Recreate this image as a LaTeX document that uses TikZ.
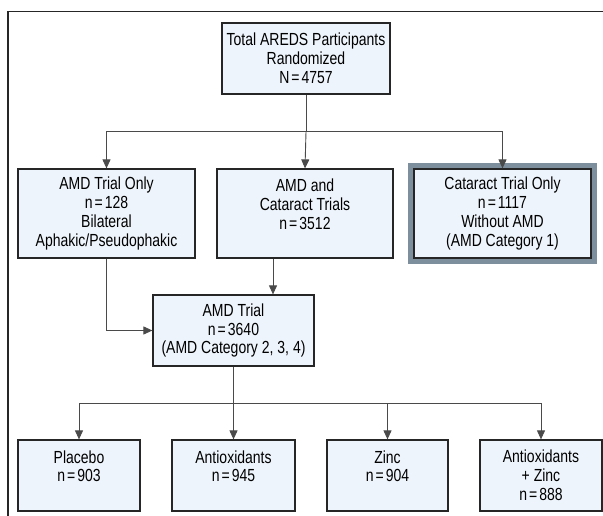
\documentclass[tikz,border=0pt]{standalone}
\usepackage{fontspec}
\setmainfont[FakeStretch=0.8]{Liberation Sans}
\usetikzlibrary{arrows.meta}
\definecolor{boxfill}{HTML}{EEF4FB}
\definecolor{framegray}{HTML}{7D8F9D}
\definecolor{linec}{HTML}{4A4A4A}
\newcommand\eqsign{\kern2pt=\kern2pt}
\begin{document}
\begin{tikzpicture}[x=1pt,y=-1pt,
  box/.style={draw=black!85, line width=1.2pt, fill=boxfill, align=center,
    inner sep=0pt, font=\fontsize{17.5}{18.8}\selectfont},
  conn/.style={draw=linec, line width=0.9pt},
  arr/.style={conn, -{Triangle[length=9pt,width=8pt]}}]
\useasboundingbox (0,0) rectangle (603,516);
\draw[line width=1.1pt, black!85] (8,518) -- (8,11.5) -- (605,11.5);

\node[box, minimum width=168pt, minimum height=71pt] (top) at (306,58.5)
  {Total AREDS Participants\\Randomized\\N\eqsign 4757};

\node[box, minimum width=177pt, minimum height=89pt] (A) at (106.5,213.5)
  {AMD Trial Only\\n\eqsign 128\\Bilateral\\Aphakic/Pseudophakic};
\node[box, minimum width=176pt, minimum height=89pt] (B) at (305,213.5)
  {AMD and\\Cataract Trials\\n\eqsign 3512\\\mbox{}};
\node[box, minimum width=177pt, minimum height=89pt,
  preaction={draw=framegray, line width=12pt}] (C) at (502.5,213.5)
  {Cataract Trial Only\\n\eqsign 1117\\Without AMD\\(AMD Category 1)};

\node[box, minimum width=161pt, minimum height=71pt] (amd) at (233.5,330.5)
  {AMD Trial\\n\eqsign 3640\\(AMD Category 2, 3, 4)};

\node[box, minimum width=122pt, minimum height=71pt] (p1) at (79,475.5)
  {Placebo\\n\eqsign 903\\\mbox{}};
\node[box, minimum width=123pt, minimum height=71pt] (p2) at (233.5,475.5)
  {Antioxidants\\n\eqsign 945\\\mbox{}};
\node[box, minimum width=121pt, minimum height=71pt] (p3) at (387.5,475.5)
  {Zinc\\n\eqsign 904\\\mbox{}};
\node[box, minimum width=122pt, minimum height=71pt] (p4) at (541,475.5)
  {Antioxidants\\+ Zinc\\n\eqsign 888};

\draw[conn] (top.south) -- ++(0,37) coordinate (br);
\draw[arr] (br) -| (A.north);
\draw[arr] (br) -- (B.north);
\draw[arr] (br) -| (C.north);

\draw[arr] (A.south) |- (amd.west);
\draw[arr] ([xshift=-32pt]B.south) -- ([xshift=-32pt]B.south |- amd.north);

\draw[conn] (amd.south) -- ++(0,37) coordinate (br2);
\draw[arr] (br2) -| (p1.north);
\draw[arr] (br2) -- (p2.north);
\draw[arr] (br2) -| (p3.north);
\draw[arr] (br2) -| (p4.north);
\end{tikzpicture}
\end{document}
